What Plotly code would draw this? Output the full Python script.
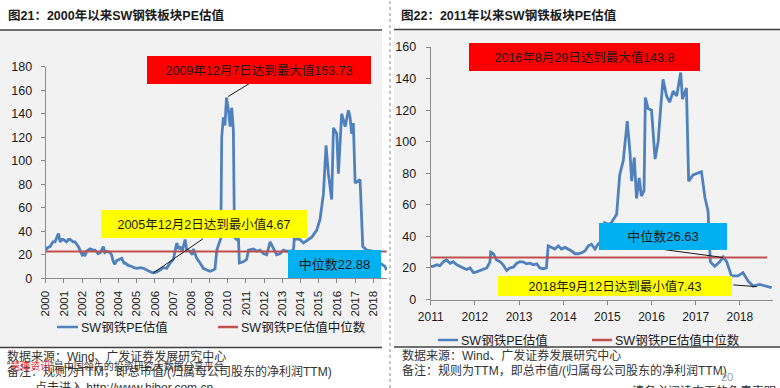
import plotly.graph_objects as go

W, H = 780, 388

# ---------------- data ----------------
left_years = [2000.00, 2000.10, 2000.24, 2000.40, 2000.51, 2000.62, 2000.70, 2000.79, 2000.90, 2000.97,
              2001.15, 2001.25, 2001.34, 2001.50, 2001.61, 2001.79, 2001.89, 2002.00, 2002.07, 2002.15,
              2002.25, 2002.44, 2002.60, 2002.71, 2002.89, 2003.00, 2003.17, 2003.25, 2003.35, 2003.53,
              2003.62, 2003.72, 2003.80, 2003.90, 2004.18, 2004.30, 2004.36, 2004.54, 2004.73, 2004.85,
              2005.00, 2005.20, 2005.37, 2005.55, 2005.70, 2005.82, 2005.92, 2006.10, 2006.28, 2006.45,
              2006.65, 2006.83, 2007.01, 2007.10, 2007.20, 2007.30, 2007.38, 2007.50, 2007.66, 2007.75,
              2007.93, 2008.05, 2008.11, 2008.20, 2008.30, 2008.48, 2008.66, 2008.85, 2009.03, 2009.21,
              2009.30, 2009.40, 2009.54, 2009.62, 2009.67, 2009.76, 2009.85, 2009.93, 2010.04, 2010.13,
              2010.22, 2010.31, 2010.37, 2010.49, 2010.59, 2010.64, 2010.86, 2011.04, 2011.14, 2011.41,
              2011.59, 2011.78, 2011.96, 2012.14, 2012.33, 2012.51, 2012.69, 2012.88, 2013.06, 2013.24,
              2013.42, 2013.61, 2013.66, 2013.97, 2014.16, 2014.43, 2014.62, 2014.89, 2015.07, 2015.26,
              2015.40, 2015.53, 2015.71, 2015.81, 2015.99, 2016.08, 2016.26, 2016.45, 2016.63, 2016.72,
              2016.81, 2016.90, 2017.00, 2017.27, 2017.36, 2017.42, 2017.64, 2018.00, 2018.37, 2018.64,
              2018.73]
left_pe = [24, 26, 27, 31, 31, 36, 38, 31, 33, 33,
           31, 33, 33, 31, 31, 27, 23, 20, 21, 19,
           23, 25, 24, 24, 21, 22, 27, 22, 23, 22,
           20, 14, 12, 15, 17, 13, 13, 11, 10, 9,
           8.5, 9, 8.5, 7, 6, 5, 4.67, 5.5, 7, 9,
           8.5, 13, 16, 22, 30, 25, 27, 23, 33, 24,
           23, 20, 25, 21, 17, 13, 8.5, 7, 6, 7,
           8, 24, 30, 34, 120, 137, 130, 153.73, 143, 129,
           145, 126, 35, 33, 33, 13, 14, 16, 24, 25,
           23, 24, 21, 20, 31, 25, 20, 21, 24, 23,
           23, 24, 34, 33, 30, 33, 35, 41, 50, 72,
           113, 89, 67, 128, 123, 89, 140, 129, 143, 137,
           123, 132, 81, 84, 55, 27, 24, 23, 13, 10,
           7]
left_median = 22.88
left_ticks = list(range(2000, 2019))

right_years = [2011.00, 2011.06, 2011.14, 2011.21, 2011.29, 2011.36, 2011.44, 2011.51, 2011.59, 2011.66,
               2011.74, 2011.81, 2011.89, 2011.97, 2012.04, 2012.12, 2012.19, 2012.27, 2012.34, 2012.36,
               2012.42, 2012.49, 2012.57, 2012.64, 2012.72, 2012.79, 2012.87, 2012.95, 2013.02, 2013.10,
               2013.17, 2013.25, 2013.32, 2013.40, 2013.47, 2013.55, 2013.62, 2013.66, 2013.74, 2013.81,
               2013.89, 2013.96, 2014.04, 2014.11, 2014.19, 2014.27, 2014.34, 2014.42, 2014.49, 2014.57,
               2014.64, 2014.72, 2014.79, 2014.87, 2014.94, 2015.02, 2015.09, 2015.21, 2015.28, 2015.36,
               2015.45, 2015.51, 2015.55, 2015.61, 2015.66, 2015.72, 2015.77, 2015.83, 2015.86, 2015.92,
               2016.00, 2016.08, 2016.15, 2016.20, 2016.26, 2016.34, 2016.41, 2016.49, 2016.57, 2016.66,
               2016.70, 2016.79, 2016.84, 2016.94, 2017.06, 2017.13, 2017.21, 2017.28, 2017.33, 2017.43,
               2017.55, 2017.62, 2017.70, 2017.81, 2017.96, 2018.07, 2018.19, 2018.30, 2018.45, 2018.56,
               2018.70, 2018.72]
right_pe = [21, 21, 22, 21.5, 24, 25, 23, 24, 22, 21,
            20, 19, 20, 17, 17.5, 18.4, 19, 20, 23.7, 30,
            29, 25, 24, 22, 18.4, 20, 20.5, 23, 24, 23.7,
            22.6, 23, 22, 22.6, 20, 19.5, 20, 34, 33, 32,
            34, 32, 33, 32, 30.7, 29, 29, 29.6, 30.7, 34,
            35, 32, 35, 37, 48.6, 47.6, 48.6, 54, 79, 88,
            113, 94, 75, 90, 64, 77, 65.5, 69, 128, 121,
            120, 89, 100, 119, 139.5, 129, 125, 132, 129, 143.8,
            127, 134, 75, 79, 80, 81, 64.5, 56, 24, 21,
            24, 27, 24, 15, 15, 17, 11.6, 8.5, 9.5, 8.5,
            7.43, 7.5]
right_median = 26.63
right_ticks = list(range(2011, 2019))

# ---------------- helpers ----------------
def px(x):
    return x / W

def py(y):
    return 1 - y / H

FONT = "Liberation Sans, Noto Sans CJK SC, sans-serif"
BLUE = "#4f81bd"
RED = "#c0504d"
AXIS = "#8c8c8c"

fig = go.Figure()

fig.add_trace(go.Scatter(x=left_years, y=left_pe, mode="lines",
                         line=dict(color=BLUE, width=2.8), xaxis="x", yaxis="y",
                         showlegend=False))
fig.add_trace(go.Scatter(x=[left_years[0], left_years[-1]], y=[left_median, left_median],
                         mode="lines", line=dict(color=RED, width=2), xaxis="x", yaxis="y",
                         showlegend=False))
fig.add_trace(go.Scatter(x=right_years, y=right_pe, mode="lines",
                         line=dict(color=BLUE, width=2.8), xaxis="x2", yaxis="y2",
                         showlegend=False))
fig.add_trace(go.Scatter(x=[right_years[0], right_years[-1] - 0.1], y=[right_median, right_median],
                         mode="lines", line=dict(color=RED, width=2), xaxis="x2", yaxis="y2",
                         showlegend=False))

common_ax = dict(showgrid=False, zeroline=False, showline=True, linecolor=AXIS, linewidth=1,
                 ticks="outside", tickcolor=AXIS, ticklen=4, fixedrange=True, automargin=False)

fig.update_layout(
    width=W, height=H,
    margin=dict(l=0, r=0, t=0, b=0, pad=0, autoexpand=False),
    paper_bgcolor="white",
    plot_bgcolor="rgba(0,0,0,0)",
    font=dict(family=FONT, color="#1a1a1a"),
    xaxis=dict(domain=[px(45.7), px(387)], range=[2000, 2018.75], anchor="y",
               tickvals=left_ticks, ticktext=[str(t) for t in left_ticks], tickangle=-90,
               tickfont=dict(size=11.5, color="#1a1a1a"), ticklabelstandoff=3, **common_ax),
    yaxis=dict(domain=[py(278.3), py(66.7)], range=[0, 180], dtick=20, anchor="x",
               tickfont=dict(size=12.5, color="#1a1a1a"), ticklabelstandoff=6, **common_ax),
    xaxis2=dict(domain=[px(430.7), px(773)], range=[2011, 2018.75], anchor="y2",
                tickvals=right_ticks, ticktext=[str(t) for t in right_ticks], tickangle=0,
                tickfont=dict(size=12, color="#1a1a1a"), ticklabelstandoff=2, **common_ax),
    yaxis2=dict(domain=[py(299.5), py(47)], range=[0, 160], dtick=20, anchor="x2",
                tickfont=dict(size=12.5, color="#1a1a1a"), ticklabelstandoff=7, **common_ax),
)

shapes = []
# gray chart backgrounds
shapes.append(dict(type="rect", xref="paper", yref="paper", x0=px(0), x1=px(382), y0=py(347), y1=py(30),
                   fillcolor="#f2f2f2", line=dict(width=0), layer="below"))
shapes.append(dict(type="rect", xref="paper", yref="paper", x0=px(394), x1=px(780), y0=py(347), y1=py(30),
                   fillcolor="#f2f2f2", line=dict(width=0), layer="below"))
# title and bottom rules
for (x0, x1, y) in [(0, 382, 30), (0, 382, 347.5), (394, 780, 29.5), (394, 780, 347)]:
    shapes.append(dict(type="line", xref="paper", yref="paper", x0=px(x0), x1=px(x1), y0=py(y), y1=py(y),
                       line=dict(color="#404040", width=1.5)))
# dotted separator
shapes.append(dict(type="line", xref="paper", yref="paper", x0=px(390), x1=px(390), y0=0, y1=1,
                   line=dict(color="#8a8a8a", width=1, dash="dot")))
# legend swatches
for (x0, x1, y, c) in [(57, 78, 327, BLUE), (218, 238, 327, RED), (438, 458, 340, BLUE), (592, 612, 340, RED)]:
    shapes.append(dict(type="line", xref="paper", yref="paper", x0=px(x0), x1=px(x1), y0=py(y), y1=py(y),
                       line=dict(color=c, width=2.5)))
fig.update_layout(shapes=shapes)

ann = []

def text(x, y, s, size=12, color="#1a1a1a", xanchor="left", bold=False):
    ann.append(dict(x=px(x), y=py(y), xref="paper", yref="paper", text=("<b>%s</b>" % s) if bold else s,
                    showarrow=False, xanchor=xanchor, yanchor="middle",
                    font=dict(size=size, color=color, family=FONT)))

def box(x0, y0, x1, y1, s, bg, size=12.5):
    ann.append(dict(x=px(x0), y=py(y0), xref="paper", yref="paper", text=s, showarrow=False,
                    xanchor="left", yanchor="top", width=x1 - x0, height=y1 - y0, align="center",
                    valign="middle", bgcolor=bg, borderpad=0, borderwidth=0,
                    font=dict(size=size, color="#1a1a1a", family=FONT)))

def leader(xr, yr, xv, yv, ax, ay, standoff=0):
    ann.append(dict(x=xv, y=yv, xref=xr, yref=yr, ax=ax, ay=ay, axref="pixel", ayref="pixel",
                    text="", showarrow=True, arrowhead=0, arrowwidth=1, arrowcolor="#1a1a1a",
                    standoff=standoff))

# titles
text(6, 16, "图21：2000年以来SW钢铁板块PE估值", size=12.5, bold=True)
text(399, 16, "图22：2011年以来SW钢铁板块PE估值", size=12.5, bold=True)

# left annotations
i_max_l = left_pe.index(max(left_pe))
i_min_l = left_pe.index(min(left_pe))
leader("x", "y", left_years[i_max_l], left_pe[i_max_l], 31, -19, standoff=2)
leader("x", "y", left_years[i_min_l], left_pe[i_min_l], 51, -35)
box(147, 56, 371, 84, "2009年12月7日达到最大值153.73", "#ff0000")
box(101, 210, 307, 238, "2005年12月2日达到最小值4.67", "#ffff00")
box(288, 250, 381, 278, "中位数22.88", "#00b0f0", size=13)

# right annotations
i_max_r = right_pe.index(max(right_pe))
i_min_r = right_pe.index(min(right_pe))
leader("x2", "y2", 2017.62, right_median, -60, -8)
leader("x2", "y2", right_years[i_min_r], right_pe[i_min_r], -39, -3, standoff=14)
box(469, 42.7, 700, 70.7, "2016年8月29日达到最大值143.8", "#ff0000")
box(599, 223, 727, 250, "中位数26.63", "#00b0f0", size=13)
box(498, 276, 732, 296, "2018年9月12日达到最小值7.43", "#ffff00")

# legends
text(79, 327, "SW钢铁PE估值", size=12.5)
text(239, 327, "SW钢铁PE估值中位数", size=12.5)
text(459, 340, "SW钢铁PE估值", size=12.5)
text(613, 340, "SW钢铁PE估值中位数", size=12.5)

# sources
text(5, 356, "数据来源：Wind、广发证券发展研究中心", size=12, color="#333333")
text(5, 371, "备注：规则为TTM，即总市值/(归属母公司股东的净利润TTM)", size=12, color="#333333")
text(5, 366, "“<span style='color:#e03030'>慧博资讯</span>”是中国领先的投资研究大数据分享平台", size=10, color="#333333")
text(33, 388, "点击进入 http://www.hibor.com.cn", size=12, color="#333333")
text(400, 355, "数据来源：Wind、广发证券发展研究中心", size=12, color="#333333")
text(400, 370, "备注：规则为TTM，即总市值/(归属母公司股东的净利润TTM)", size=12, color="#333333")
text(727, 377, "20", size=11, color="#9a9a9a", xanchor="center")
text(630, 391, "请务必阅读末页的免责声明", size=12, color="#333333")

fig.update_layout(annotations=ann)

fig.write_html("out.html", config={"displayModeBar": False, "staticPlot": True},
               post_script="document.body.style.margin='0px';document.body.style.padding='0px';"
                           "document.body.style.overflow='hidden';")
